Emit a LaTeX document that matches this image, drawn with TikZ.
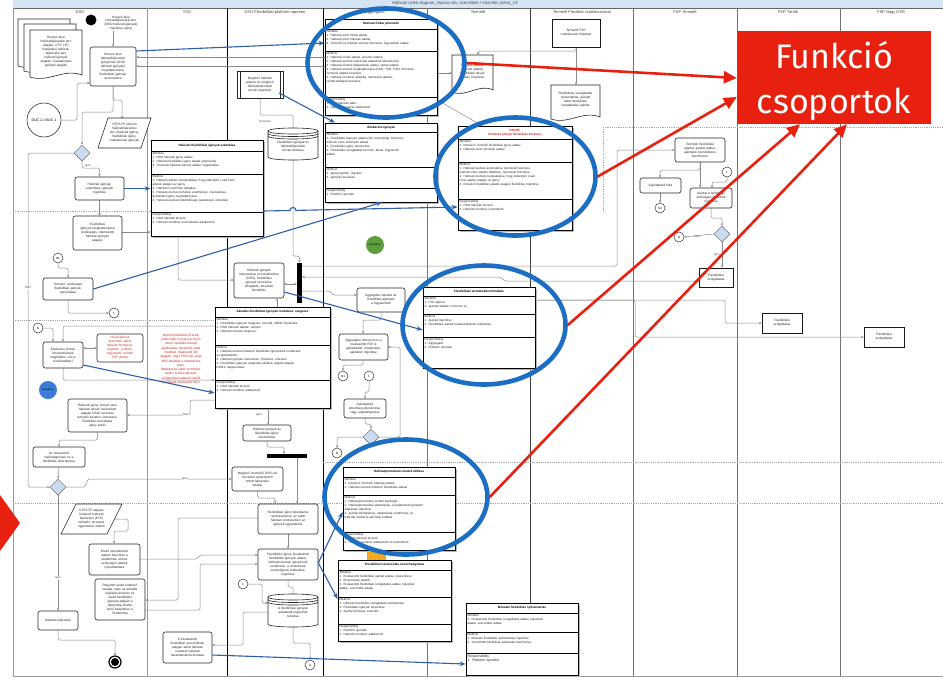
\documentclass[tikz,border=0pt]{standalone}
\usepackage{fontspec}
\setmainfont{Liberation Sans}
\newfontfamily\calloutfont{Fira Sans}
\usetikzlibrary{shapes.geometric,arrows.meta,calc}
\pgfdeclarelayer{lanes}
\pgfdeclarelayer{wires}
\pgfsetlayers{lanes,wires,main}

\definecolor{titlebar}{HTML}{D5E5F4}
\definecolor{ringblue}{HTML}{1B6EC2}
\definecolor{linkblue}{HTML}{2E5FA8}
\definecolor{annred}{HTML}{E8200F}
\definecolor{gatefill}{HTML}{C9DCEF}
\definecolor{flowgray}{HTML}{8A8A8A}
\definecolor{noteRed}{HTML}{D02020}
\definecolor{evgreen}{HTML}{5C9E3C}
\definecolor{evblue}{HTML}{3C7BD8}
\definecolor{warnorange}{HTML}{F2A81F}

\tikzset{
  task/.style={draw=black!85, line width=0.6pt, rounded corners=2.2pt, fill=white,
    align=center, inner sep=0.5pt, font=\fontsize{3.2}{4.0}\selectfont, text=black!85},
  sqtask/.style={task, rounded corners=0pt, draw=black!90, line width=0.7pt},
  tasktext/.style={align=center, inner sep=0.5pt, font=\fontsize{3.2}{4.0}\selectfont, text=black!85},
  alerttask/.style={task, text=noteRed},
  docline/.style={draw=black!85, line width=0.6pt, fill=white},
  smallcirc/.style={circle, draw=black!80, line width=0.5pt, fill=white, inner sep=0pt,
    minimum size=10pt, font=\fontsize{3}{3}\selectfont},
  gate/.style={diamond, draw=black!60, fill=gatefill, line width=0.5pt, minimum size=16pt, inner sep=0pt},
  flow/.style={draw=flowgray, line width=0.5pt, rounded corners=1.5pt, -{Stealth[length=2.6pt,width=2.2pt]}},
  flowboth/.style={flow, {Stealth[length=2.6pt,width=2.2pt]}-{Stealth[length=2.6pt,width=2.2pt]}},
  link/.style={draw=linkblue, line width=1.1pt, -{Stealth[length=6pt,width=4.5pt]}},
  ring/.style={ellipse, draw=ringblue, line width=4.6pt, inner sep=0pt},
  callout/.style={draw=annred, line width=2.6pt, -{Triangle[length=13pt,width=12pt]}},
  sublane/.style={draw=black!35, line width=0.5pt, dash pattern=on 1.2pt off 1pt},
  lanehead/.style={font=\fontsize{4}{4}\selectfont, text=black!75},
  lbl/.style={font=\fontsize{2.9}{3}\selectfont, text=black!70, inner sep=0.4pt, fill=white},
  classframe/.style={draw=black, line width=0.7pt, fill=white, inner sep=0pt},
  classrule/.style={draw=black, line width=0.7pt},
  ctitle/.style={font=\fontsize{3.1}{3.6}\selectfont\bfseries, inner sep=0pt, align=center},
  csec/.style={anchor=north west, font=\fontsize{3.05}{3.9}\selectfont, align=left,
    inner sep=1.4pt, text width=107pt, text=black!85},
}

% task-like node given by its corners
\newcommand\tk[7][task]{%
  \pgfmathsetmacro\tkW{#5-#3}\pgfmathsetmacro\tkH{#6-#4}\pgfmathsetmacro\tkT{#5-#3-3}%
  \pgfmathsetmacro\tkX{(#3+#5)/2}\pgfmathsetmacro\tkY{(#4+#6)/2}%
  \node[#1, minimum width=\tkW pt, minimum height=\tkH pt, text width=\tkT pt] (#2) at (\tkX,\tkY) {#7};%
}
% class box: name, x1, y1, x2, y2, attribute top, method top, responsibility top, title
\newcommand\umlbox[9]{%
  \pgfmathsetmacro\ubW{#4-#2}\pgfmathsetmacro\ubH{#5-#3}%
  \pgfmathsetmacro\ubX{(#2+#4)/2}\pgfmathsetmacro\ubY{(#3+#5)/2}\pgfmathsetmacro\ubT{(#3+#6)/2}%
  \fill[black!28] (#2+1.8,#3+1.8) rectangle (#4+1.8,#5+1.8);
  \node[classframe, minimum width=\ubW pt, minimum height=\ubH pt] (#1) at (\ubX,\ubY) {};
  \draw[classrule] (#2,#6) -- (#4,#6);
  \draw[classrule] (#2,#7) -- (#4,#7);
  \draw[classrule] (#2,#8) -- (#4,#8);
  \node[ctitle] (#1-t) at (\ubX,\ubT) {#9};
  \coordinate (#1-a) at (#2,#6);
  \coordinate (#1-m) at (#2,#7);
  \coordinate (#1-r) at (#2,#8);
}
% document outline with a wavy lower edge
\newcommand\docshape[4]{%
  \path[docline] (#1,#2) -- (#3,#2) -- (#3,#4-3)
    .. controls ({#3-0.35*(#3-#1)},#4-10) and ({#1+0.35*(#3-#1)},#4+5) .. (#1,#4-1) -- cycle;}
% database drum
\newcommand\dbshape[4]{%
  \path[docline] (#1,#2+3) -- (#1,#4-3) .. controls (#1,#4+1) and (#3,#4+1) .. (#3,#4-3)
    -- (#3,#2+3) .. controls (#3,#2-1) and (#1,#2-1) .. (#1,#2+3) -- cycle;
  \draw[docline, fill=none] (#1,#2+3) .. controls (#1,#2+7) and (#3,#2+7) .. (#3,#2+3);
  \draw[docline, fill=none] (#1,#2+5.5) .. controls (#1,#2+9.5) and (#3,#2+9.5) .. (#3,#2+5.5);
  \draw[docline, fill=none] (#1,#2+8) .. controls (#1,#2+12) and (#3,#2+12) .. (#3,#2+8);}

\begin{document}
\begin{tikzpicture}[x=1pt, y=-1pt]
\useasboundingbox (0,0) rectangle (943,681);

% ---------------- swimlanes ----------------
\begin{pgfonlayer}{lanes}
  \fill[white] (0,0) rectangle (943,681);
  \fill[titlebar] (13,0) rectangle (943,8);
  \node[font=\fontsize{4.2}{5}\selectfont, text=black!70] (ttl) at (455,3.8)
    {Hálózati üzleti diagram\_Hosszú táv, szerződés / Közeltáv (nem)\_V2};
  \draw[black!60, line width=0.7pt] (13,8) -- (943,8);
  \draw[black!40, line width=0.8pt] (13,8) -- (13,676) -- (943,676);
  \foreach \lx/\lc in {147/40,227/100,323/100,427/55,530/75,633/55,737/55,840/55}
    \draw[black!\lc, line width=0.8pt] (\lx,8) -- (\lx,676);
  \foreach \hx/\hd in {80/DSO,187/TSO,275/DSO Flexibilitási platform operátor,375/Aggregátor,
      478/Termelő,582/Termelő Flexibilis csatlakozással,685/FSP Termelő,788/FSP Tároló,891/FSP Nagy DSR}
    \node[lanehead] (hd\hx) at (\hx,12.5) {\hd};
  \draw[sublane] (13,211) -- (227,211);
  \draw[sublane] (13,320) -- (227,320);
  \draw[sublane] (323,462) -- (943,462);
  \draw[sublane] (13,503) -- (943,503);
  \draw[sublane] (603,127) -- (943,127);
  \draw[sublane] (603,127) -- (603,211);
\end{pgfonlayer}

% ---------------- DSO ----------------
\node[circle, fill=black, minimum size=11pt, inner sep=0pt] (start) at (91,20) {};
\node[tasktext, font=\fontsize{3.2}{3.9}\selectfont] (ann1) at (121,23)
  {Hosszú távú\\hálózatfejlesztési terv\\(DSO hálózati igények)\\rögzítése, igény};
\docshape{18}{19}{70}{67}
\docshape{24}{24}{76}{72}
\docshape{30}{30}{82}{78}
\tk[tasktext]{docs}{30}{30}{82}{74}{Hosszú távú\\hálózatfejlesztési terv\\alapján, KTP, LTP\\középtávú hálózat-\\fejlesztési terv\\hálózati igények\\alapján. Csatlakozási\\igények alapján}
\tk{t1}{90}{47}{136}{86}{Hosszú távú\\hálózatfejlesztési\\igényeinek (DSO\\hálózati igények)\\meghatározása,\\flexibilitási igények\\azonosítása}
\node[circle, draw=black!80, line width=0.6pt, fill=white, minimum size=34pt, inner sep=0pt,
  font=\fontsize{3.6}{4}\selectfont] (duc) at (44,120) {DUC 2->DUC 1};
\path[docline] (108,118) -- (151,118) -- (141,148) -- (98,148) -- cycle;
\tk[tasktext]{p1}{103}{119}{146}{147}{KTP/LTP szerinti\\hálózatfejlesztési\\terv (hálózati igény),\\flexibilitási igény,\\csatlakozási igények}
\node[gate] (d1) at (82,153) {};
\tk{t2}{75}{177}{124}{200}{Hálózati igények\\számítása, igények\\rögzítése}
\tk{t3}{73}{216}{122}{250}{Flexibilitási\\igények meghatározása\\(szükséges, ütemezett)\\hálózati igények\\alapján}
\node[smallcirc] (cN1) at (58,258) {N1};
\tk{t4}{43}{278}{93}{300}{Termelő, szükséges\\flexibilitási igények\\generálása}
\node[smallcirc] (c1) at (114,313) {1};
\node[smallcirc] (cN) at (38,328) {N};
\tk{t5}{43}{342}{83}{368}{Elvárásos formai\\követelmények\\megfelelés, van-e\\a hálózatban?}
\tk[alerttask]{t6}{97}{334}{143}{362}{Ha elvárások\\szerintiek, akkor\\hálózati formázás,\\rögzítés: a tároló,\\fogyasztói, területi\\FSP jelölés}
\node[align=center, text=noteRed, font=\fontsize{3.2}{4.3}\selectfont, inner sep=0pt] (redann) at (181,359)
  {Import flexibilitási (8 órás)\\pihenőidős, hosszú az ilyen\\eltérő modellel-érintett\\ajánlatokat, összesítő adott\\modellel, határozott idő\\alapján. Vagy TSO-nál, vagy\\30\% beállítás a modellezés\\után.\\Modellezési adat: termelési,\\tároló, árelőre becsült,\\a fogyasztói szabad, kijelölt\\ajánlatnak ütemezést kérni};
\node[circle, fill=evblue, minimum size=18pt, inner sep=0pt, font=\fontsize{2.6}{3}\selectfont] (bcirc) at (48,390) {Esemény};
\tk{t7}{68}{399}{127}{432}{Hálózati igény, hosszú távú\\hálózati tervek összesített\\alapján DSO-val közös\\terhelés kezelés, ütemezés,\\flexibilitás elosztásra\\igény jelzés}
\tk{t8}{33}{447}{85}{467}{Az összesített\\hálózatigények és a\\flexibilitás lekérdezése}
\node[gate] (d2) at (58,487) {};
\path[docline] (76,504) -- (122,504) -- (107,534) -- (61,534) -- cycle;
\tk[tasktext]{p2}{70}{505}{113}{533}{KTP/LTP alapján\\kötelező hálózati\\fejlesztési (KTP)\\terhelés, tervezett\\egyeztetési adatok}
\tk{t9}{89}{544}{140}{575}{Elvárt üzemeltetési\\adatok illesztése a\\platformba, ehhez\\szükséges adatok\\nyilvántartása}
\tk{t10}{95}{579}{145}{620}{Rögzített elvárt kötelező\\feladat, mely az aktuális\\hálózati rendszer és\\elvárt flexibilitási\\igények alapján a\\fejlesztési tervbe\\kerül beépítésre a\\Platformba}
\tk{t11}{38}{611}{78}{630}{Hálózati fejlesztés}
\node[circle, draw=black, line width=1.2pt, fill=white, minimum size=12pt, inner sep=0pt] (endc) at (115,662) {};
\fill[black] (endc.center) circle (4);

% ---------------- TSO ----------------
\tk{t12}{163}{632}{212}{663}{A kiválasztott\\flexibilitási szerződések\\alapján adott hálózati\\rendszer hálózati\\tartalmának biztosítása}

% ---------------- DSO flexibility platform operator ----------------
\path[docline] (237,71) rectangle (283,98);
\draw[docline, fill=none] (240,71) -- (240,98);
\draw[docline, fill=none] (280,71) -- (280,98);
\tk[tasktext]{pd1}{241}{72}{279}{97}{Meglévő hálózati\\adatok és meglévő\\hálózatfejlesztési\\tervek rögzítése}
\dbshape{268}{128}{318}{160}
\tk[tasktext]{cyl1}{268}{132}{318}{160}{Flexibilitási igények és\\hálózatfejlesztési\\tervek tárolása}
\umlbox{hfi}{151}{140}{263}{236}{151}{174}{212}{Hálózati flexibilitási igények számítása}
\node[csec] (hfi-at) at (hfi-a) {Attribute\\1. DSO hálózati igény adatai\\2. Hálózati flexibilitási igény adatai (ütemezés)\\3. Tervezett hálózati elemek adatai, fogyasztása};
\node[csec] (hfi-mt) at (hfi-m) {Method\\1. Hálózati adatok manipulálása, hogy kiderüljön Load Flow\\ adatok alapján az igény\\2. Hálózati Load Flow futtatása\\3. Hálózati elemek terhelési eredményei, összesítése,\\ flexibilitási igény meghatározása\\4. Hálózati elemek túlterheltsége (jelentések, értesítés)};
\node[csec] (hfi-rt) at (hfi-r) {Responsibility\\1. DSO hálózati tervező\\2. Hálózati rendszer üzemeltetési adatkezelő};
\tk{t13}{234}{263}{284}{298}{Hálózati igények\\összesítése és kiértékelése\\(DSO), flexibilitási\\igények tervezése,\\elfogadás, tervezett\\flexibilitás}
\node[fill=black, minimum width=5pt, minimum height=40pt, inner sep=0pt] (bar1) at (299.5,283) {};
\umlbox{afi}{215}{307}{330}{408}{317}{345}{380}{Aktuális flexibilitási igények rendelése, rangsora}
\node[csec] (afi-at) at (afi-a) {Attribute\\1. Flexibilitási igények rangsora, sorrend, időbeli folyamata\\2. DSO hálózati adatok, rangsor\\3. Hálózati elemek rangsora};
\node[csec] (afi-mt) at (afi-m) {Method\\1. Hálózati elemek kötelező flexibilitási igényeinek rendezése\\ az ajánlatokhoz\\2. Hálózati igények ütemezése, frissítése, értesítés\\3. Flexibilitási igények rangsorba állítása, ajánlat alapján\\ DSO-k rangsorolása};
\node[csec] (afi-rt) at (afi-r) {Responsibility\\1. DSO hálózati tervező\\2. Hálózati rendszer adatkezelő};
\tk{t14}{243}{425}{291}{441}{Hálózati igények és\\flexibilitási igény\\összesítése}
\node[fill=black, minimum width=40pt, minimum height=4pt, inner sep=0pt] (bar2) at (287,456) {};
\tk{t15}{232}{467}{283}{491}{Meglévő (termelő) DSO-val\\tervezett rendszerből\\kötött fejlesztési\\adatok}
\tk{t16}{258}{504}{318}{534}{Flexibilitási igény lekérdezés\\rendszerezése, az adott\\hálózati rendszerben az\\igények egyeztetése}
\tk{t17}{258}{549}{318}{580}{Flexibilitási igény, kiválasztott\\flexibilitási igények adatai,\\hálózati elemek igényeinek\\rendezése, a rendszerek\\sorrendjének értékelése,\\rögzítése}
\node[smallcirc] (c1b) at (243,584) {1};
\dbshape{268}{594}{318}{627}
\tk[tasktext]{cyl2}{268}{598}{318}{627}{A flexibilitási igények\\adatainak regisztrált\\tárolása}
\node[smallcirc] (cA) at (310,665) {A};

% ---------------- Aggregator ----------------
\umlbox{hf}{325}{19}{437}{115}{29}{51}{97}{Hálózati fizikai jellemzők}
\node[csec] (hf-at) at (hf-a) {Attribute\\1. Hálózati elem fizikai adatai\\2. Hálózati elem hálózati adatai\\3. Termelői és hálózati elemek termelési, fogyasztási adatai};
\node[csec] (hf-mt) at (hf-m) {Method\\1. Hálózati zónák adatai, elosztói adatok\\2. Hálózati elemek kapcsolati adatainak lekérdezése\\3. Hálózati elemek állapotának adatai, zárlati adatok\\4. Hálózati elemek meghatározása (DSO, TSO, FSP) Termelés,\\ Termelői adatok kezelése\\5. Hálózati rendszer állapota, ütemezési adatok,\\ rendszerállapot kezelése};
\node[csec] (hf-rt) at (hf-r) {Responsibility\\1. DSO hálózati adat\\2. Hálózati rendszer adatkezelő};
\umlbox{ai}{325}{123}{437}{202}{132}{167}{188}{Allokációs igények}
\node[csec] (ai-at) at (ai-a) {Attribute\\1. Flexibilitási igények adatai (idő, mennyiség, helyszín),\\ hálózati elem azonosító adatai\\2. Flexibilitási igény ütemezése\\3. Flexibilitási szolgáltatás termelő, tároló, fogyasztói\\ adatai};
\node[csec] (ai-mt) at (ai-m) {Method\\1. Igényrögzítés, rögzítés\\2. Igénylés kezelése};
\node[csec] (ai-rt) at (ai-r) {Responsibility\\1. Platform operátor};
\node[circle, fill=evgreen, minimum size=18pt, inner sep=0pt, font=\fontsize{2.6}{3}\selectfont] (gcirc) at (375,245) {Esemény};
\tk{t18}{357}{288}{405}{312}{Aggregátor kérdezi az\\flexibilitás ajánlatot\\a fogyasztótól}
\tk{t19}{339}{334}{388}{360}{Aggregátor döntést hoz a\\kiválasztott FSP-k\\ajánlataiból, kiválasztás,\\ajánlatok rögzítése}
\node[smallcirc] (cN1b) at (343,376) {N1};
\node[smallcirc] (c1c) at (369,376) {1};
\tk{t20}{344}{399}{386}{418}{Ajánlattételi\\lehetőség ellenőrzése,\\vagy engedélyezése}
\node[gate] (d3) at (371,437) {};
\node[smallcirc] (cNb) at (337,453) {N};
\node[fill=warnorange, minimum width=19pt, minimum height=10pt, inner sep=0pt] (orng) at (376.5,555) {};
\umlbox{hpm}{343}{467}{455}{550}{477}{495}{532}{Hálózatpontosítási modell állítása}
\node[csec] (hpm-at) at (hpm-a) {Attribute\\1. Kötelező Termelői hálózati adatok\\2. Hálózati elemek kötelező flexibilitási adatai};
\node[csec] (hpm-mt) at (hpm-m) {Method\\1. Hálózatpontosítási modell topológia\\2. Hálózatpontosítási alkalmazás, a kiválasztott ajánlatok\\ adatainak rögzítése\\3. Ajánlat kiértékelése, alkalmazás eredménye, pl.\\ hálózati modell (Load flow) futtatás};
\node[csec] (hpm-rt) at (hpm-r) {Responsibility\\1. DSO hálózati tervező\\2. Hálózati rendszer adatkezelő és üzemeltető};
\umlbox{fhk}{338}{560}{451}{641}{570}{597}{624}{Flexibilitás hasznosítás összehangolása}
\node[csec] (fhk-at) at (fhk-a) {Attribute\\1. Kiválasztott flexibilitási ajánlat adatai, összesítése\\2. Elszámolási adatok\\3. Kiválasztott flexibilitási szolgáltatás adatai, teljesítés\\ adatai, szerződés adatai};
\node[csec] (fhk-mt) at (fhk-m) {Method\\1. Hálózati flexibilitási szolgáltatás lekérdezése\\2. Flexibilitási igények teljesítése\\3. Ajánlat lehívása, értesítés};
\node[csec] (fhk-rt) at (fhk-r) {Responsibility\\1. Platform operátor\\2. Hálózati rendszer adatkezelő};

% ---------------- Producer ----------------
\docshape{452}{55}{493}{93}
\tk[tasktext]{doc1}{452}{55}{493}{89}{Termelői adatok,\\hálózati adatok,\\flexibilitási tervek\\adatai, frissítése}
\umlbox{opc}{458}{126}{572}{230}{139}{162}{199}{\textcolor{noteRed}{OPCIÓ:}\\\textcolor{noteRed}{Kötelező jellegű flexibilitás kezelése}}
\node[csec] (opc-at) at (opc-a) {Attribute\\1. Kötelező Termelői flexibilitási igény adatai\\2. Hálózati elem elosztási adatai};
\node[csec] (opc-mt) at (opc-m) {Method\\1. Hálózati elemek automatikus ütemezett lekérése,\\ hálózati elem adatok feltöltése, ütemezett frissítése\\2. Hálózati elemek manipulálása, hogy kiderüljön Load\\ Flow adatok alapján az igény\\3. Kötelező flexibilitás adatok alapján flexibilitás rögzítése};
\node[csec] (opc-rt) at (opc-r) {Responsibility\\1. DSO hálózati tervező\\2. Hálózati rendszer üzemeltető};
\umlbox{ftk}{423}{287}{535}{368}{296}{314}{337}{Flexibilitási termékek/konfirmálás}
\node[csec] (ftk-at) at (ftk-a) {Attribute\\1. FSP ajánlat\\2. Ajánlati adatok, minimum ár};
\node[csec] (ftk-mt) at (ftk-m) {Method\\1. Ajánlat rögzítése\\2. Flexibilitási ajánlat kiválasztásának értékelése};
\node[csec] (ftk-rt) at (ftk-r) {Responsibility\\1. Aggregátor\\2. Platform operátor};
\umlbox{mfn}{466}{603}{578}{675}{613}{632}{653}{Műszaki flexibilitás nyilvántartás}
\node[csec] (mfn-at) at (mfn-a) {Attribute\\1. Kiválasztott flexibilitási szolgáltatás adatai, teljesítési\\ adatai, szerződési adatai};
\node[csec] (mfn-mt) at (mfn-m) {Method\\1. Műszaki flexibilitás nyilvántartás rögzítése\\2. Szerződött flexibilitás adatainak ellenőrzése};
\node[csec, font=\fontsize{3.5}{4.3}\selectfont] (mfn-rt) at (mfn-r) {Responsibility\\1. Platform operátor};

% ---------------- Producer with flexible connection ----------------
\tk[sqtask]{rt1}{552}{19}{600}{47}{Termelői FSP\\csatlakozási folyamat}
\docshape{551}{85}{600}{120}
\tk[tasktext]{doc2}{551}{85}{600}{115}{Flexibilitási szolgáltatás\\nyilvántartás, ajánlat\\adott flexibilitási\\szolgáltatási ajánlat}

% ---------------- FSP lanes ----------------
\tk{t21}{675}{138}{725}{162}{Termelői flexibilitási\\ajánlat, ajánlat adása,\\ajánlatok szerződéses\\ellenőrzése}
\node[smallcirc] (c1d) at (727,172) {1};
\tk{t22}{640}{178}{681}{193}{Ajánlattételi hiba}
\node[smallcirc] (cN1c) at (660,208) {N1};
\tk{t23}{690}{188}{732}{208}{Ajánlat a flexibilitás\\szükséges ajánlatok\\rögzítése}
\node[gate] (d4) at (722,234) {};
\node[smallcirc] (cNc) at (679,237) {N};
\tk[sqtask]{r1}{699}{268}{733}{287}{Flexibilitási\\szolgáltatás}
\tk[sqtask]{r2}{762}{313}{802}{333}{Flexibilitási\\szolgáltatás}
\tk[sqtask]{r3}{864}{327}{904}{347}{Flexibilitási\\szolgáltatás}

% ---------------- sequence flows ----------------
\begin{pgfonlayer}{wires}
  \draw[flow] (t1.north |- ann1.south) -- (t1.north);
  \draw[flow] (duc.east) -- (77,120) -- (77,83) -- (t1.west |- 0,83);
  \draw[flow] (t1.south) -- (113,100) -- (122,100) -- (p1.north -| 122,0);
  \draw[flow] (t1.south) -- (113,112) -- (82,112) -- (d1.north);
  \draw[flow] (d1.south) -- (82,168) -- (99.5,168) -- (t2.north);
  \draw[flow] (d1.west) -- (28,153) -- (28,487) -- (d2.west);
  \draw[flow] (t2.south) -- (t3.north -| t2.south);
  \draw[flow] (t3.east |- 0,232) -- (hfi.west |- 0,232);
  \draw[flow] (cN1.south) -- (58,268) -- (68,268) -- (t4.north);
  \draw[flow] (t4.south) -- (68,313) -- (c1.west);
  \draw[flow] (cN.east) -- (53,328) -- (t5.north -| 53,0);
  \draw[flowboth] (t5.east |- t6.west) -- (t6.west);
  \draw[flow] (afi.west |- 0,326) -- (63,326) -- (t5.north -| 63,0);
  \draw[flow] (t5.south -| 63,0) -- (63,380) -- (afi.west |- 0,380);
  \draw[flow] (afi.west |- 0,400) -- (190,400) -- (190,415) -- (t7.east |- 0,415);
  \draw[flow] (afi.south -| 268,0) -- (t14.north -| 268,0);
  \draw[flow] (t7.south) -- (97.5,440) -- (59,440) -- (t8.north);
  \draw[flow] (t8.south) -- (d2.north);
  \draw[flow] (d2.east) -- (85,487) -- (88,479) -- (t15.west |- 0,479);
  \draw[flow] (d2.south) -- (t11.north);
  \draw[flow] (t11.south) -- (58,640) -- (115,640) -- (endc.north);
  \draw[flow] (p2.east) -- (128,519) -- (128,531) -- (114,531) -- (t9.north -| 114,0);
  \draw[flow] (t9.east |- 0,559) -- (197,559) -- (200,555) -- (t17.west |- 0,555);
  \draw[flow] (t16.west |- 0,518) -- (178,518) -- (178,600) -- (t10.east |- 0,600);
  \draw[flow] (t10.east |- 0,610) -- (200,610) -- (200,564) -- (t17.west |- 0,564);
  \draw[flow] (t15.south) -- (257.5,498) -- (275,498) -- (t16.north -| 275,0);
  \draw[flow] (bar2.south -| 297,0) -- (t16.north -| 297,0);
  \draw[flow] (t14.south) -- (267,447) -- (284,447) -- (bar2.north -| 284,0);
  \draw[flow] (t16.south) -- (t17.north);
  \draw[flow] (t17.south) -- (288,587) -- (293,587) -- (cyl2.north -| 293,0);
  \draw[flow] (c1b.east) -- (262,584) -- (262,603) -- (cyl2.west |- 0,603);
  \draw[flow] (cyl2.west |- 0,612) -- (243,612) -- (243,645) -- (t12.east |- 0,645);
  \draw[flow] (cyl2.south) -- (293,643) -- (310,643) -- (cA.north);
  \draw[flow] (pd1.south -| 260,0) -- (260,115) -- (293,115) -- (cyl1.north -| 293,0);
  \draw[flow] (cyl1.south) -- (293,256) -- (299.5,256) -- (bar1.north);
  \draw[flow] (hfi.south -| 178,0) -- (178,280) -- (t13.west |- 0,280);
  \draw[flowboth] (bar1.west |- 0,284) -- (t13.east |- 0,284);
  \draw[flow] (afi.north -| 277,0) -- (t13.south -| 277,0);
  \draw[flow] (r1.west |- 0,281) -- (505,281) -- (500,277) -- (bar1.east |- 0,277);
  \draw[flow] (bar1.east |- 0,266) -- (617,266) -- (617,150) -- (t21.west |- 0,150);
  \draw[flow] (bar1.east |- 0,291) -- (330,291) -- (333,295) -- (t18.west |- 0,295);
  \draw[flow] (t18.south) -- (381,320) -- (363,320) -- (t19.north -| 363,0);
  \draw[flow] (t19.south -| 363,0) -- (363,365) -- (343,365) -- (cN1b.north);
  \draw[flow] (c1c.south) -- (369,392) -- (365,392) -- (t20.north);
  \draw[flow] (t20.south) -- (365,424) -- (371,424) -- (d3.north);
  \draw[flow] (d3.east) -- (400,437) -- (400,347) -- (t19.east |- 0,347);
  \draw[flow] (d3.west) -- (337,437) -- (cNb.north);
  \draw[flow] (hf.west |- 0,57) -- (t1.east |- 0,57);
  \draw[flow] (hf.west |- 0,66) -- (t1.east |- 0,66);
  \draw[flow] (hf.east |- 0,73) -- (doc1.west |- 0,73);
  \draw[flow] (hf.east |- 0,100) -- (opc.north -| 482,0);
  \draw[flow] (rt1.south) -- (doc2.north -| rt1.south);
  \draw[flow] (rt1.south) -- (576,51) -- (478,51) -- (doc1.north -| 478,0);
  \draw[flow] (t21.south) -- (700,170) -- (660,170) -- (t22.north -| 660,0);
  \draw[flow] (t21.south) -- (t23.north -| 700,0);
  \draw[flow] (c1d.south) -- (727,182) -- (712,182) -- (t23.north -| 712,0);
  \draw[flow] (t22.south -| 660,0) -- (cN1c.north);
  \draw[flow] (t23.south) -- (711,218) -- (722,218) -- (d4.north);
  \draw[flow] (d4.west) -- (cNc.east);
  \draw[flow] (d4.south) -- (r1.north -| 722,0);
  \draw[flow] (ftk.east |- 0,300) -- (725,300) -- (725,323) -- (r2.west |- 0,323);
  \draw[flow] (ftk.east |- 0,300) -- (635,300) -- (635,337) -- (r3.west |- 0,337);
\end{pgfonlayer}

% flow labels
\node[lbl] (lb1) at (88,166) {Igen};
\node[lbl] (lb2) at (28,288) {Nem};
\node[lbl] (lb3) at (186,415) {Nem};
\node[lbl, fill=none] (lb4) at (259,415) {Igen};
\node[lbl] (lb5) at (185,479) {Igen};
\node[lbl] (lb6) at (58,578) {Igen};
\node[lbl, fill=none] (lb7) at (265,121) {Tervezés};
\node[lbl] (lb8) at (697,237) {Nem};
\node[lbl, fill=none] (lb9) at (717,255) {Igen};

% ---------------- information links ----------------
\draw[link] (t1.east |- 0,51) -- (hf.west |- 0,43);
\draw[link] (pd1.east |- 0,93) -- (ai.north -| 335,0);
\draw[link] (t2.east) -- (hfi.west |- t2.east);
\draw[link] (hfi.east |- 0,211) -- (290,210.5) .. controls (290,206.5) and (296,206.5) .. (296,210.4) -- (opc.west |- 0,207);
\draw[link] (t4.east) -- (ai.south -| 382,0);
\draw[link] (t13.east |- 0,292) -- (ftk.west |- 0,330);
\draw[link] (t5.east |- 0,365) -- (afi.west |- 0,393);
\draw[link] (t17.east |- 0,563) -- (hpm.west |- 0,512);
\draw[link] (t17.east |- 0,563) -- (fhk.west |- 0,599);
\draw[link] (t12.east |- 0,655) -- (mfn.west |- 0,664);

% ---------------- function group highlights ----------------
\node[ring, minimum width=157pt, minimum height=109pt] (e1) at (386,63) {};
\node[ring, minimum width=160pt, minimum height=118pt] (e2) at (515.5,176.5) {};
\node[ring, minimum width=163pt, minimum height=119pt] (e3) at (484,325) {};
\node[ring, minimum width=163pt, minimum height=115pt] (e4) at (406,497) {};

\node[fill=annred, minimum width=194pt, minimum height=93pt, inner sep=0pt] (funk) at (834,77.5) {};
\node[anchor=base, text=white, inner sep=0pt, font=\calloutfont\fontsize{34}{40}\selectfont] (funk1) at (834,68) {Funkció};
\node[anchor=base, text=white, inner sep=0pt, font=\calloutfont\fontsize{34}{40}\selectfont] (funk2) at (834,113) {csoportok};

\draw[callout] (e1.east) -- (funk.west |- 0,78);
\draw[callout] (e2.east) -- (funk.west |- 0,97);
\draw[callout] (e3.east) -- (funk.south -| 800,0);
\draw[callout] (e4.east) -- (funk.south -| 847,0);

\fill[annred] (0,495) -- (20,523) -- (0,551) -- cycle;
\end{tikzpicture}
\end{document}
